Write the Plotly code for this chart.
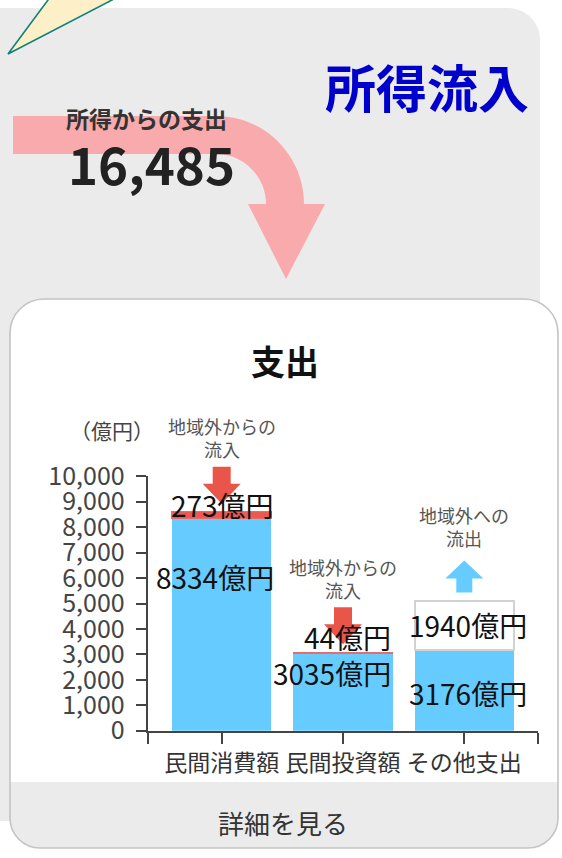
import plotly.graph_objects as go

# ---------------- data ----------------
CATEGORIES = ['民間消費額', '民間投資額', 'その他支出']
WITHIN = [8334, 3035, 3176]      # spending inside the region (blue)
INFLOW = [273, 44, 0]            # inflow from outside the region (red)
OUTFLOW = [0, 0, 1940]           # outflow to outside the region (white)
Y_MAX = 10000
Y_DTICK = 1000
UNIT = '億円'
HEADER = '所得流入'
SUBTITLE = '所得からの支出'
TITLE = '支出'
AXIS_UNIT = '（億円）'
CAPTION_IN = '地域外からの<br>流入'
CAPTION_OUT = '地域外への<br>流出'
FOOTER = '詳細を見る'

# ---------------- helpers ----------------
W, H = 562, 858
FONT = 'Noto Sans CJK JP'
K = 0.5523


def px(x):
    return x / W


def py(y):
    return 1 - y / H


def P(*segs):
    out = []
    for s in segs:
        if isinstance(s, str):
            out.append(s)
        else:
            out.append(f"{px(s[0]):.5f},{py(s[1]):.5f}")
    return ' '.join(out)


def rrect(x0, y0, x1, y1, rtl, rtr, rbr, rbl):
    return P('M', (x0 + rtl, y0), 'L', (x1 - rtr, y0),
             'C', (x1 - rtr + K * rtr, y0), (x1, y0 + rtr - K * rtr), (x1, y0 + rtr),
             'L', (x1, y1 - rbr),
             'C', (x1, y1 - rbr + K * rbr), (x1 - rbr + K * rbr, y1), (x1 - rbr, y1),
             'L', (x0 + rbl, y1),
             'C', (x0 + rbl - K * rbl, y1), (x0, y1 - rbl + K * rbl), (x0, y1 - rbl),
             'L', (x0, y0 + rtl),
             'C', (x0, y0 + rtl - K * rtl), (x0 + rtl - K * rtl, y0), (x0 + rtl, y0), 'Z')


fig = go.Figure()

BAR_W = 0.82
fig.add_bar(x=list(range(len(CATEGORIES))), y=WITHIN, width=BAR_W,
            marker=dict(color='#66ccff', line=dict(width=0)), hoverinfo='skip')
ix = [i for i, v in enumerate(INFLOW) if v > 0]
fig.add_bar(x=ix, y=[INFLOW[i] for i in ix], width=BAR_W,
            marker=dict(color='#ea5a52', line=dict(width=1.5, color='#ec6b66')), hoverinfo='skip')
ox = [i for i, v in enumerate(OUTFLOW) if v > 0]
fig.add_bar(x=ox, y=[OUTFLOW[i] for i in ox], width=BAR_W,
            marker=dict(color='white', line=dict(width=2, color='#d2d2d2')), hoverinfo='skip')

shapes = []
# grey panel
shapes.append(dict(type='path', xref='paper', yref='paper', layer='below',
                   path=rrect(-30, 8, 540, 821, 0, 32, 0, 0),
                   fillcolor='#ebebeb', line=dict(width=0)))
# speech-bubble tail
shapes.append(dict(type='path', xref='paper', yref='paper', layer='below',
                   path=P('M', (8, 54), 'L', (51.7, -5), 'L', (121.6, -5), 'Z'),
                   fillcolor='#fdf0c8', line=dict(width=1.6, color='#11827a')))
# pink curved arrow
cx, cy, ro, ri = 216, 204, 88, 50
shapes.append(dict(type='path', xref='paper', yref='paper', layer='below',
                   path=P('M', (13, cy - ro), 'L', (cx, cy - ro),
                          'C', (cx + K * ro, cy - ro), (cx + ro, cy - K * ro), (cx + ro, cy),
                          'L', (325, cy), 'L', (286, 279), 'L', (248, cy), 'L', (cx + ri, cy),
                          'C', (cx + ri, cy - K * ri), (cx + K * ri, cy - ri), (cx, cy - ri),
                          'L', (13, cy - ri), 'Z'),
                   fillcolor='#f9aaad', line=dict(width=0)))
# white card, footer, outline
card = rrect(10, 299, 558, 848, 34, 34, 30, 30)
shapes.append(dict(type='path', xref='paper', yref='paper', layer='below',
                   path=card, fillcolor='white', line=dict(width=0)))
shapes.append(dict(type='path', xref='paper', yref='paper', layer='below',
                   path=rrect(10, 782, 558, 848, 0, 0, 30, 30),
                   fillcolor='#ebebeb', line=dict(width=0)))
shapes.append(dict(type='path', xref='paper', yref='paper', layer='below',
                   path=card, fillcolor='rgba(0,0,0,0)', line=dict(width=1.6, color='#c4c4c4')))

annotations = []


def add_text(x, y, text, size, color, **kw):
    annotations.append(dict(xref='paper', yref='paper', x=px(x), y=py(y), text=text,
                            showarrow=False, xanchor='center', yanchor='middle',
                            font=dict(size=size, color=color, family=FONT), **kw))


add_text(427, 86, f'<b>{HEADER}</b>', 51, '#0000cc')
add_text(146, 118, f'<b>{SUBTITLE}</b>', 23, '#333333')
add_text(151, 163, f'<b>{sum(WITHIN) + sum(OUTFLOW):,}</b>', 51, '#222222')
add_text(285, 360, f'<b>{TITLE}</b>', 34, '#111111')
add_text(112, 430, AXIS_UNIT, 21, '#444444')
add_text(283, 822, FOOTER, 26, '#333333')

# arrows & captions above each bar, anchored to the stack top
DOWN = 'M -9,45 L 9,45 L 9,28 L 19,28 L 0,8 L -19,28 L -9,28 Z'
UP = 'M -8,8 L 8,8 L 8,22 L 19,22 L 0,40 L -19,22 L -8,22 Z'
for i in range(len(CATEGORIES)):
    top = WITHIN[i] + INFLOW[i] + OUTFLOW[i]
    inflow = INFLOW[i] > 0
    shapes.append(dict(type='path', xref='x', yref='y domain', xsizemode='pixel', ysizemode='pixel',
                       xanchor=i, yanchor=top / Y_MAX, path=DOWN if inflow else UP,
                       fillcolor='#ea5549' if inflow else '#66ccff', line=dict(width=0)))
    annotations.append(dict(xref='x', yref='y', x=i, y=top, yshift=74, showarrow=False,
                            text=CAPTION_IN if inflow else CAPTION_OUT,
                            xanchor='center', yanchor='middle',
                            font=dict(size=18, color='#555555', family=FONT)))

# value labels
LBL = 28
blue_shift = [(-7, -58), (-11, -20), (4, -43)]
for i, v in enumerate(WITHIN):
    annotations.append(dict(xref='x', yref='y', x=i, y=v, xshift=blue_shift[i][0], yshift=blue_shift[i][1],
                            text=f'{v}{UNIT}', showarrow=False, xanchor='center', yanchor='middle',
                            font=dict(size=LBL, color='#111111', family=FONT)))
in_shift = [(1, 7), (4, 15), (0, 0)]
for i, v in enumerate(INFLOW):
    if v > 0:
        annotations.append(dict(xref='x', yref='y', x=i, y=WITHIN[i] + v,
                                xshift=in_shift[i][0], yshift=in_shift[i][1],
                                text=f'{v}{UNIT}', showarrow=False, xanchor='center', yanchor='middle',
                                font=dict(size=LBL, color='#111111', family=FONT)))
for i, v in enumerate(OUTFLOW):
    if v > 0:
        annotations.append(dict(xref='x', yref='y', x=i, y=WITHIN[i] + v / 2, xshift=4,
                                text=f'{v}{UNIT}', showarrow=False, xanchor='center', yanchor='middle',
                                font=dict(size=LBL, color='#111111', family=FONT)))

fig.update_layout(
    width=W, height=H, autosize=False, margin=dict(l=0, r=0, t=0, b=0, pad=0, autoexpand=False),
    paper_bgcolor='white', plot_bgcolor='rgba(0,0,0,0)',
    barmode='stack', showlegend=False,
    font=dict(family=FONT, color='#333333'),
    shapes=shapes, annotations=annotations,
    xaxis=dict(domain=[px(147.7), px(538.3)], range=[-0.61, 2.61], automargin=False,
               tickmode='array', tickvals=[-0.61, 0, 1, 2, 2.61], ticktext=[''] + CATEGORIES + [''],
               ticks='outside', ticklen=11, tickwidth=2, tickcolor='#444444',
               showline=True, linecolor='#444444', linewidth=2,
               showgrid=False, zeroline=False, fixedrange=True,
               tickfont=dict(size=23, color='#333333', family=FONT)),
    yaxis=dict(domain=[py(730.7), py(476.3)], range=[0, Y_MAX], tick0=0, dtick=Y_DTICK, automargin=False,
               tickformat=',', ticks='outside', ticklen=10, tickwidth=2, tickcolor='#444444',
               showline=True, linecolor='#444444', linewidth=2,
               showgrid=False, zeroline=False, fixedrange=True, ticklabelstandoff=6,
               tickfont=dict(size=25, color='#444444', family=FONT)),
)

fig.write_html('out.html')
